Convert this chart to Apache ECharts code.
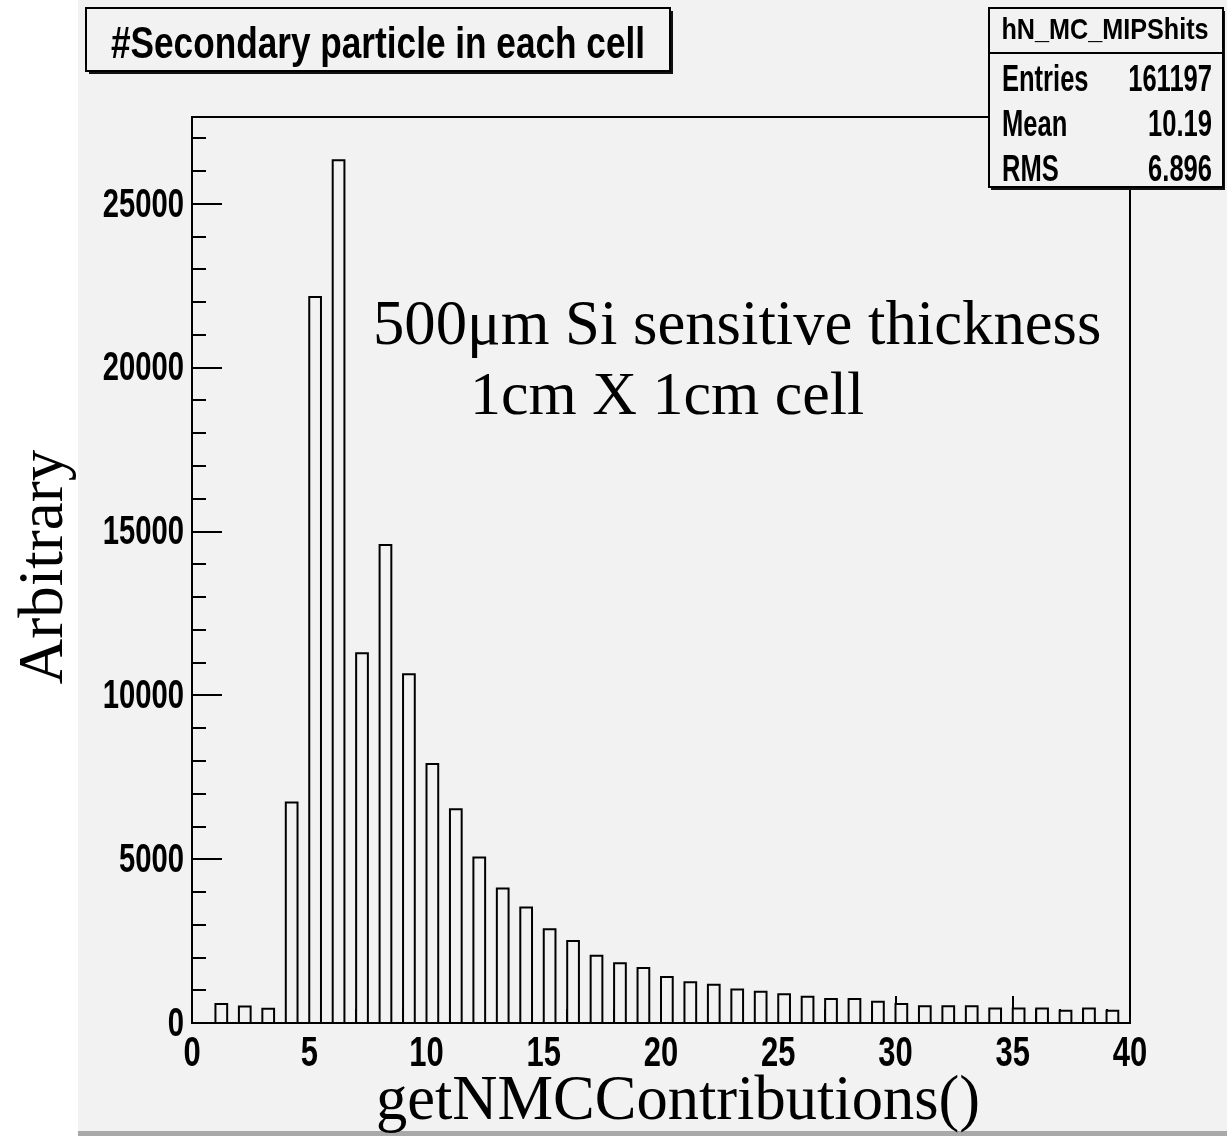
<!DOCTYPE html>
<html>
<head>
<meta charset="utf-8">
<script src="https://cdn.jsdelivr.net/npm/echarts@6/dist/echarts.min.js"></script>
<style>
html,body{margin:0;padding:0;background:#fff;}
#chart{width:1227px;height:1136px;}
</style>
</head>
<body>
<div id="chart"></div>
<script>
// ---- data ----
const binLow = [0,1,2,3,4,5,6,7,8,9,10,11,12,13,14,15,16,17,18,19,20,21,22,23,24,25,26,27,28,29,30,31,32,33,34,35,36,37,38,39];
const counts = [0,580,500,435,6730,22150,26320,11280,14580,10640,7900,6520,5050,4100,3520,2860,2500,2050,1820,1680,1400,1240,1170,1020,950,875,800,730,730,650,580,510,510,510,440,440,440,370,440,370];
const xTickValues = [0,5,10,15,20,25,30,35,40];
const yTickValues = [0,5000,10000,15000,20000,25000];
const xRange = [0, 40];
const yMax = 27640;
const titleText = '#Secondary particle in each cell';
const statsName = 'hN_MC_MIPShits';
const statsLabels = ['Entries', 'Mean', 'RMS'];
const statsValues = ['161197', '10.19', '6.896'];
const noteLines = ['500\u03bcm Si sensitive thickness', '1cm X 1cm cell'];
const xTitle = 'getNMCContributions()';
const yTitle = 'Arbitrary';

// ---- style ----
const BG = '#f2f2f2';
const SANS = '"Liberation Sans",Arial,sans-serif';
const SERIF = '"Liberation Serif","Times New Roman",serif';
const barFrac = 0.5;

const chart = echarts.init(document.getElementById('chart'), null, {renderer: 'canvas'});

const option = {
  backgroundColor: '#ffffff',
  animation: false,
  grid: {left: 192, top: 117, right: 97, bottom: 113, show: true, borderColor: '#000', borderWidth: 2, backgroundColor: 'transparent'},
  xAxis: [{
    type: 'value', min: xRange[0], max: xRange[1], interval: 5, position: 'bottom',
    axisLine: {show: true, onZero: false, lineStyle: {color: '#000', width: 2}},
    axisTick: {show: true, inside: true, length: 27, lineStyle: {color: '#000', width: 2}},
    minorTick: {show: true, splitNumber: 5, length: 14, lineStyle: {color: '#000', width: 2}},
    axisLabel: {show: false},
    splitLine: {show: false}, minorSplitLine: {show: false}
  }],
  yAxis: [{
    type: 'value', min: 0, max: yMax, interval: 5000, position: 'left',
    axisLine: {show: true, onZero: false, lineStyle: {color: '#000', width: 2}},
    axisTick: {show: true, inside: true, length: 30, lineStyle: {color: '#000', width: 2}},
    axisLabel: {show: false},
    splitLine: {show: false}
  }, {
    type: 'value', min: 0, max: yMax, interval: 1000, position: 'left', offset: 0,
    axisLine: {show: false},
    axisTick: {show: true, inside: true, length: 14, lineStyle: {color: '#000', width: 2}},
    axisLabel: {show: false},
    splitLine: {show: false}
  }],
  series: [{
    type: 'custom',
    xAxisIndex: 0, yAxisIndex: 0,
    data: binLow.map(function (b, i) { return [b, counts[i]]; }),
    encode: {x: 0, y: 1},
    renderItem: function (params, api) {
      const x0 = api.value(0), v = api.value(1);
      const pTop = api.coord([x0, v]);
      const pBot = api.coord([x0 + barFrac, 0]);
      return {
        type: 'rect',
        shape: {x: pTop[0], y: pTop[1], width: pBot[0] - pTop[0], height: pBot[1] - pTop[1]},
        style: {fill: BG, stroke: '#000', lineWidth: 2}
      };
    }
  }]
};
chart.setOption(option);

function txt(text, x, y, font, align, sx, extra) {
  const o = {type: 'text', z: 52, x: x, y: y, scaleX: sx || 1,
    style: {text: text, font: font, fill: '#000', align: align, verticalAlign: 'middle'}};
  if (extra) Object.assign(o, extra);
  return o;
}

const graphics = [
  {type: 'rect', z: -10, shape: {x: 78, y: 0, width: 1149, height: 1131}, style: {fill: BG}},
  {type: 'rect', z: -10, shape: {x: 78, y: 1131, width: 1149, height: 5}, style: {fill: '#a9a9a9'}},
  // title box
  {type: 'rect', z: 50, shape: {x: 89, y: 11, width: 584, height: 63}, style: {fill: '#111'}},
  {type: 'rect', z: 51, shape: {x: 86, y: 8, width: 584, height: 63}, style: {fill: BG, stroke: '#000', lineWidth: 2}},
  txt(titleText, 378, 45.4, 'bold 44px ' + SANS, 'center', 0.80),
  // stats box
  {type: 'rect', z: 50, shape: {x: 991, y: 11, width: 234, height: 179}, style: {fill: '#111'}},
  {type: 'rect', z: 51, shape: {x: 989, y: 8, width: 234, height: 179}, style: {fill: BG, stroke: '#000', lineWidth: 2}},
  {type: 'line', z: 52, shape: {x1: 989, y1: 53, x2: 1223, y2: 53}, style: {stroke: '#000', lineWidth: 2}},
  txt(statsName, 1105, 30.7, 'bold 30px ' + SANS, 'center', 0.84),
  // notes
  txt(noteLines[0], 373, 328, '62.7px ' + SERIF, 'left'),
  txt(noteLines[1], 470, 398, '62px ' + SERIF, 'left'),
  // axis titles
  txt(xTitle, 376, 1103, '62.5px ' + SERIF, 'left'),
  txt(yTitle, 45, 567, '63px ' + SERIF, 'center', 1, {rotation: Math.PI / 2})
];
statsLabels.forEach(function (lab, i) {
  const y = 80.5 + i * 45;
  graphics.push(txt(lab, 1002, y, 'bold 37px ' + SANS, 'left', 0.69));
  graphics.push(txt(statsValues[i], 1212, y, 'bold 37px ' + SANS, 'right', 0.69));
});

// tick labels placed through the axes' own scales
const axisY0 = chart.convertToPixel({yAxisIndex: 0}, 0);
const axisX0 = chart.convertToPixel({xAxisIndex: 0}, xRange[0]);
xTickValues.forEach(function (v) {
  const px = chart.convertToPixel({xAxisIndex: 0}, v);
  graphics.push(txt(String(v), px, axisY0 + 30.7, 'bold 43px ' + SANS, 'center', 0.72));
});
yTickValues.forEach(function (v) {
  const py = chart.convertToPixel({yAxisIndex: 0}, v);
  graphics.push(txt(String(v), axisX0 - 8, py + 2, 'bold 40px ' + SANS, 'right', 0.73));
});

chart.setOption({graphic: graphics});
</script>
</body>
</html>
